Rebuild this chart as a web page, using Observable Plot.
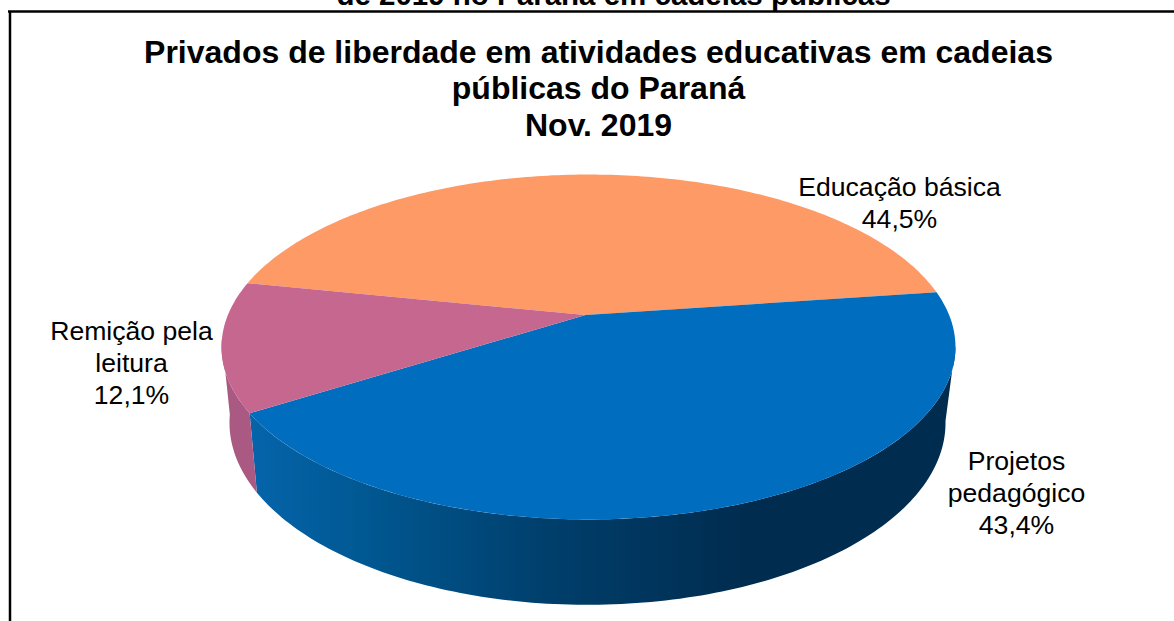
<!DOCTYPE html>
<html lang="pt-BR">
<head>
<meta charset="utf-8">
<script src="https://cdn.jsdelivr.net/npm/d3@7"></script>
<script src="https://cdn.jsdelivr.net/npm/@observablehq/plot@0.6"></script>
<style>
  html, body { margin: 0; padding: 0; background: #fff; overflow: hidden; }
  svg { display: block; }
</style>
</head>
<body>
<div id="chart"></div>
<script>
// Shares of incarcerated people in educational activities, in percent.
const categories = ["Educação básica", "Projetos pedagógico", "Remição pela leitura"];
const shares = [44.5, 43.4, 12.1];
const labelLines = [["Educação básica"], ["Projetos", "pedagógico"], ["Remição pela", "leitura"]];
const topColors = ["#fd9a65", "#006dbf", "#c5678f"];
const wallColor = "#aa5a82";
const titleLines = [
  "Privados de liberdade em atividades educativas em cadeias",
  "públicas do Paraná",
  "Nov. 2019"
];
const clippedHeading = "de 2019 no Paraná em cadeias públicas";

const W = 1174, H = 621;
const rad = (d) => (d * Math.PI) / 180;

// Perspective view of the two discs of the pie (lid and base).
const k = 0.1826;
const lid = {x0: 588, y0: 315, a: 360.8, b: 166.7};
const base = {x0: 587, y0: 389, a: 352, b: 176};
const apex = {x: 585, y: 314.5};
const project = (disc, t) => {
  const u = Math.cos(t), v = Math.sin(t), w = 1 - k * v;
  return {x: disc.x0 + (disc.a * u) / w, y: disc.y0 + (disc.b * v) / w};
};
const arc = (disc, t0, t1) => {
  const n = Math.ceil(Math.abs(t1 - t0) / rad(1));
  return d3.range(n + 1).map((i) => project(disc, t0 + ((t1 - t0) * i) / n));
};

// Slices run clockwise on screen, starting from the left of the disc.
const start = rad(-168.4);
const slices = d3.pie().sort(null).startAngle(start).endAngle(start + 2 * Math.PI)(shares);
const slicePath = (s) => [apex, ...arc(lid, s.startAngle, s.endAngle), apex];

// The visible side walls only reach the disc's silhouette.
const rightEdge = rad(10), leftEdge = rad(172);
const wallPath = (t0, t1) => [...arc(lid, t0, t1), ...arc(base, t1, t0)];
const blueWall = wallPath(rightEdge, slices[1].endAngle);
const pinkWall = wallPath(slices[1].endAngle, leftEdge);

// Side-wall shading, from the lit left to the dark right.
const wallStops = [
  [0, "#0564aa"],
  [0.26, "#00568f"],
  [0.6, "#003f6c"],
  [1, "#002c4f"]
];
const wallGradient = (index, {x}) => {
  const defs = d3.create("svg:defs");
  const g = defs.append("linearGradient")
    .attr("id", "wall-shade")
    .attr("gradientUnits", "userSpaceOnUse")
    .attr("x1", x(250)).attr("x2", x(745)).attr("y1", 0).attr("y2", 0);
  for (const [o, c] of wallStops) g.append("stop").attr("offset", o).attr("stop-color", c);
  return defs.node();
};

const pct = (v) => v.toFixed(1).replace(".", ",") + "%";
const labels = [
  {x: 899, y: 201.5},
  {x: 1016, y: 491},
  {x: 131, y: 361}
].map((p, i) => ({...p, text: [...labelLines[i], pct(shares[i])].join("\n")}));

const titles = titleLines.map((text, i) => ({text, x: 598, y: [52, 88, 125][i]}));
const fontFamily = "'Liberation Sans', Arial, sans-serif";

const chart = Plot.plot({
  width: W,
  height: H,
  margin: 0,
  x: {domain: [0, W], range: [0, W], axis: null},
  y: {domain: [0, H], range: [0, H], axis: null},
  style: {background: "#fff", fontFamily},
  marks: [
    wallGradient,
    Plot.line(blueWall, {x: "x", y: "y", fill: "url(#wall-shade)", stroke: "none"}),
    Plot.line(pinkWall, {x: "x", y: "y", fill: wallColor, stroke: "none"}),
    ...slices.map((s, i) =>
      Plot.line(slicePath(s), {x: "x", y: "y", fill: topColors[i], stroke: "none"})
    ),
    Plot.ruleX([9.5], {y1: 11, y2: H, stroke: "#000", strokeWidth: 2.5}),
    Plot.ruleY([11], {x1: 8, x2: W, stroke: "#000", strokeWidth: 2.5}),
    Plot.text([clippedHeading], {
      x: 613, y: -5, text: (d) => d, fontSize: 29.5, fontWeight: "bold", fill: "#000"
    }),
    Plot.text(titles, {
      x: "x", y: "y", text: "text", fontSize: 32, fontWeight: "bold", fill: "#000"
    }),
    Plot.text(labels, {
      x: "x", y: "y", text: "text", fontSize: 26.6, lineHeight: 1.2, fill: "#000"
    })
  ]
});
document.getElementById("chart").append(chart);
</script>
</body>
</html>
